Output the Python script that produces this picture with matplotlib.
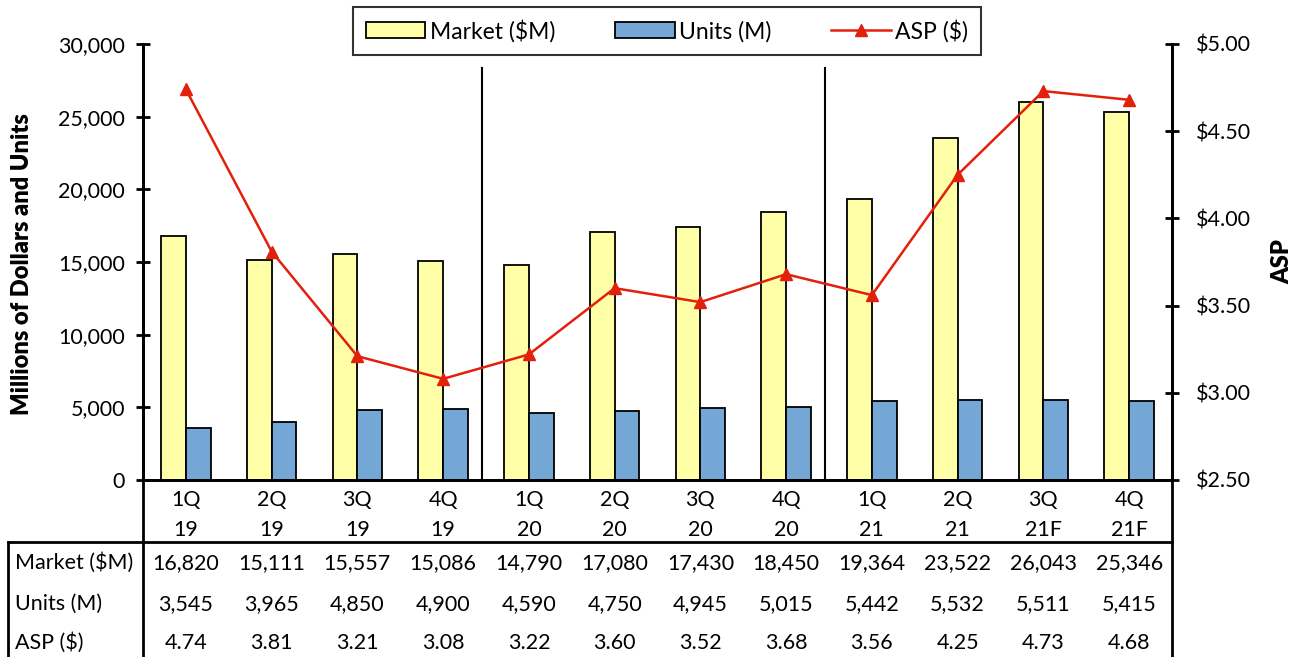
import matplotlib
matplotlib.use("Agg")
import matplotlib.pyplot as plt
import matplotlib.transforms as mtrans
from matplotlib.lines import Line2D
from matplotlib.ticker import FuncFormatter
import numpy as np

plt.rcParams['font.family'] = ['Lato', 'DejaVu Sans']

quarters = ["1Q", "2Q", "3Q", "4Q", "1Q", "2Q", "3Q", "4Q", "1Q", "2Q", "3Q", "4Q"]
years = ["19", "19", "19", "19", "20", "20", "20", "20", "21", "21", "21F", "21F"]
market = [16820, 15111, 15557, 15086, 14790, 17080, 17430, 18450, 19364, 23522, 26043, 25346]
units = [3545, 3965, 4850, 4900, 4590, 4750, 4945, 5015, 5442, 5532, 5511, 5415]
asp = [4.74, 3.81, 3.21, 3.08, 3.22, 3.60, 3.52, 3.68, 3.56, 4.25, 4.73, 4.68]
row_labels = ["Market ($M)", "Units (M)", "ASP ($)"]

FS = 15.5
W, H = 1294, 657
fig = plt.figure(figsize=(W / 100, H / 100), dpi=100)
L, R, T, B = 143, 1172, 44, 480
ax = fig.add_axes([L / W, 1 - B / H, (R - L) / W, (B - T) / H])
ax2 = ax.twinx()

x = np.arange(len(market))
bw = 0.29
yellow = "#FFFFA8"
blue = "#74A7D6"
red = "#E2200C"
ax.bar(x - bw / 2, market, bw, color=yellow, edgecolor="black", linewidth=1.3, label="Market ($M)", zorder=2)
ax.bar(x + bw / 2, units, bw, color=blue, edgecolor="black", linewidth=1.3, label="Units (M)", zorder=2)
ax2.plot(x, asp, color=red, lw=1.8, marker="^", markersize=9, markeredgecolor=red, label="ASP ($)")

ax.set_xlim(-0.5, len(market) - 0.5)
ax.set_ylim(0, 30000)
ax.set_yticks(np.arange(0, 30001, 5000))
ax.yaxis.set_major_formatter(FuncFormatter(lambda v, p: f"{int(v):,}"))
ax2.set_ylim(2.5, 5.0)
ax2.set_yticks(np.arange(2.5, 5.01, 0.5))
ax2.yaxis.set_major_formatter(FuncFormatter(lambda v, p: f"${v:.2f}"))
ax.set_xticks([])

for a in (ax, ax2):
    a.spines['top'].set_visible(False)
    for s in a.spines.values():
        s.set_linewidth(2)
ax.tick_params(axis='y', direction='inout', length=10, width=2, labelsize=FS, pad=8)
ax2.tick_params(axis='y', direction='inout', length=10, width=2, labelsize=FS, pad=12)

fig.text(22 / W, 1 - 264 / H, "Millions of Dollars and Units", rotation=90, fontsize=17,
         fontweight='heavy', ha='center', va='center')
fig.text(1282 / W, 1 - 262 / H, "ASP", rotation=90, fontsize=17, fontweight='heavy',
         ha='center', va='center')

# divider lines
for xd in (3.45, 7.45):
    ax.axvline(xd, ymin=0, ymax=(B - 68) / (B - T), color="black", lw=1.5, zorder=1)

# legend
h1, l1 = ax.get_legend_handles_labels()
h2, l2 = ax2.get_legend_handles_labels()
leg = fig.legend(h1 + h2, l1 + l2, loc='center', bbox_to_anchor=(667 / W, 1 - 31 / H),
                 ncol=3, fontsize=16.5, frameon=True, fancybox=False, edgecolor='black',
                 handlelength=2.6, columnspacing=2.6, handletextpad=0.2, borderpad=0.55,
                 borderaxespad=0)
leg.get_frame().set_linewidth(1.5)

# category labels and table
bt = mtrans.blended_transform_factory(ax.transData, fig.transFigure)
for i in x:
    fig.text(i, 1 - 500 / H, quarters[i], transform=bt, ha='center', va='center', fontsize=FS)
    fig.text(i, 1 - 530 / H, years[i], transform=bt, ha='center', va='center', fontsize=FS)

row_y = [563, 604, 643]
rows = [[f"{v:,}" for v in market], [f"{v:,}" for v in units], [f"{v:.2f}" for v in asp]]
for ry, lab, vals in zip(row_y, row_labels, rows):
    fig.text(15 / W, 1 - ry / H, lab, ha='left', va='center', fontsize=FS)
    for i in x:
        fig.text(i, 1 - ry / H, vals[i], transform=bt, ha='center', va='center', fontsize=FS)

def fline(x0, y0, x1, y1):
    fig.add_artist(Line2D([x0 / W, x1 / W], [1 - y0 / H, 1 - y1 / H], color='black', lw=2,
                          transform=fig.transFigure))

fline(8, 542, R, 542)
fline(8, 542, 8, H)
fline(L, B, L, H)
fline(R, B, R, H)

fig.savefig("out.png", dpi=100)
